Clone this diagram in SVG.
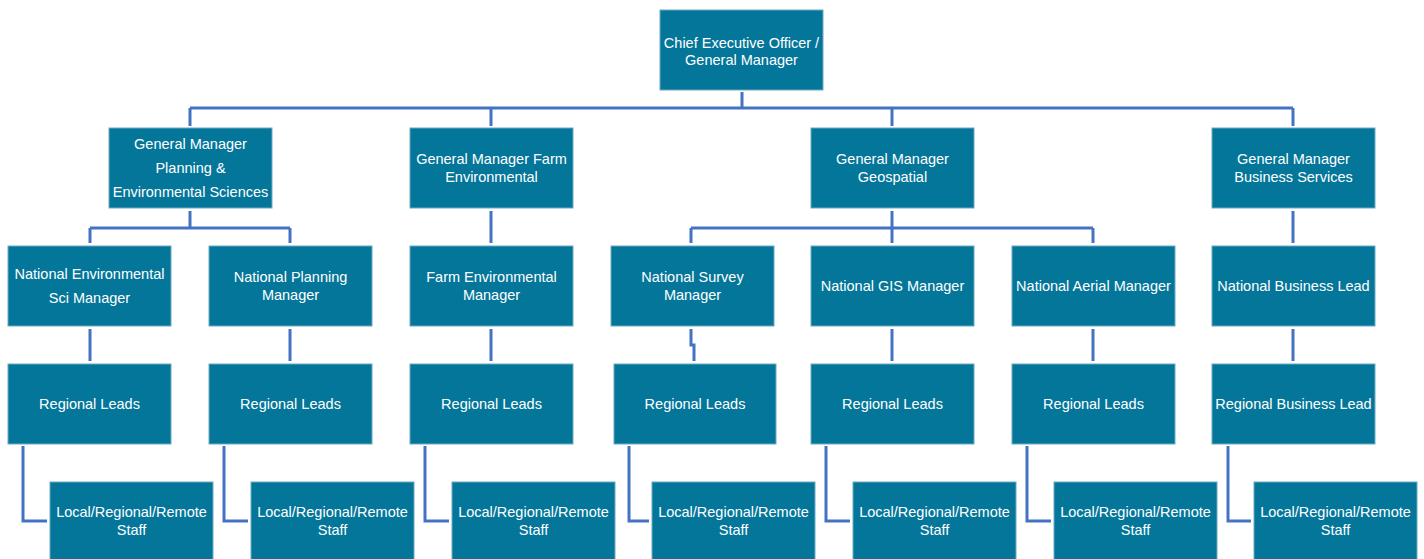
<svg xmlns="http://www.w3.org/2000/svg" width="1424" height="559" viewBox="0 0 1424 559">
<style>
.b{fill:#04769a;stroke:#6aaac2;stroke-width:1}
.t{font-family:"Liberation Sans",Arial,sans-serif;font-size:14.5px;fill:#ffffff;text-anchor:middle}
.c{fill:none;stroke:#4472c4;stroke-width:3;stroke-linejoin:miter}
</style>
<rect width="1424" height="559" fill="#ffffff"/>
<g id="connectors">
<path class="c" d="M742 92V108M190 108H1293M190 108V126M491 108V126M892 108V126M1293 108V126"/>
<path class="c" d="M190 211V228M90 228H290M90 228V243M290 228V243"/>
<path class="c" d="M491 211V243M1293 211V243"/>
<path class="c" d="M892 211V243M691 228H1093M691 228V243M1093 228V243"/>
<path class="c" d="M90 329V361M290 329V361M491 329V361M892 329V361M1093 329V361M1293 329V361"/>
<path class="c" d="M691 329V345H694V361"/>
<path class="c" d="M23 446V521H47M224 446V521H248M425 446V521H449M629 446V521H649M826 446V521H850M1027 446V521H1051M1228 446V521H1251"/>
</g>
<g id="ceo"><rect class="b" x="660" y="10" width="163" height="80"/><text class="t" x="741.5" y="48">Chief Executive Officer /</text><text class="t" x="741.5" y="65">General Manager</text></g>
<g id="gm-planning"><rect class="b" x="109" y="128" width="163" height="80"/><text class="t" x="190.5" y="149">General Manager</text><text class="t" x="190.5" y="173">Planning &amp;</text><text class="t" x="190.5" y="197">Environmental Sciences</text></g>
<g id="gm-farm"><rect class="b" x="410" y="128" width="163" height="80"/><text class="t" x="491.5" y="164">General Manager Farm</text><text class="t" x="491.5" y="182">Environmental</text></g>
<g id="gm-geo"><rect class="b" x="811" y="128" width="163" height="80"/><text class="t" x="892.5" y="164">General Manager</text><text class="t" x="892.5" y="182">Geospatial</text></g>
<g id="gm-business"><rect class="b" x="1212" y="128" width="163" height="80"/><text class="t" x="1293.5" y="164">General Manager</text><text class="t" x="1293.5" y="182">Business Services</text></g>
<g id="nat-env"><rect class="b" x="8" y="246" width="163" height="80"/><text class="t" x="89.5" y="279">National Environmental</text><text class="t" x="89.5" y="303">Sci Manager</text></g>
<g id="nat-planning"><rect class="b" x="209" y="246" width="163" height="80"/><text class="t" x="290.5" y="282">National Planning</text><text class="t" x="290.5" y="300">Manager</text></g>
<g id="farm-env"><rect class="b" x="410" y="246" width="163" height="80"/><text class="t" x="491.5" y="282">Farm Environmental</text><text class="t" x="491.5" y="300">Manager</text></g>
<g id="nat-survey"><rect class="b" x="611" y="246" width="163" height="80"/><text class="t" x="692.5" y="282">National Survey</text><text class="t" x="692.5" y="300">Manager</text></g>
<g id="nat-gis"><rect class="b" x="811" y="246" width="163" height="80"/><text class="t" x="892.5" y="291">National GIS Manager</text></g>
<g id="nat-aerial"><rect class="b" x="1012" y="246" width="163" height="80"/><text class="t" x="1093.5" y="291">National Aerial Manager</text></g>
<g id="nat-business"><rect class="b" x="1212" y="246" width="163" height="80"/><text class="t" x="1293.5" y="291">National Business Lead</text></g>
<g id="rl-1"><rect class="b" x="8" y="364" width="163" height="80"/><text class="t" x="89.5" y="409">Regional Leads</text></g>
<g id="rl-2"><rect class="b" x="209" y="364" width="163" height="80"/><text class="t" x="290.5" y="409">Regional Leads</text></g>
<g id="rl-3"><rect class="b" x="410" y="364" width="163" height="80"/><text class="t" x="491.5" y="409">Regional Leads</text></g>
<g id="rl-4"><rect class="b" x="614" y="364" width="162" height="80"/><text class="t" x="695" y="409">Regional Leads</text></g>
<g id="rl-5"><rect class="b" x="811" y="364" width="163" height="80"/><text class="t" x="892.5" y="409">Regional Leads</text></g>
<g id="rl-6"><rect class="b" x="1012" y="364" width="163" height="80"/><text class="t" x="1093.5" y="409">Regional Leads</text></g>
<g id="rl-7"><rect class="b" x="1212" y="364" width="163" height="80"/><text class="t" x="1293.5" y="409">Regional Business Lead</text></g>
<g id="staff-1"><rect class="b" x="50" y="482" width="163" height="80"/><text class="t" x="131.5" y="517">Local/Regional/Remote</text><text class="t" x="131.5" y="535">Staff</text></g>
<g id="staff-2"><rect class="b" x="251" y="482" width="163" height="80"/><text class="t" x="332.5" y="517">Local/Regional/Remote</text><text class="t" x="332.5" y="535">Staff</text></g>
<g id="staff-3"><rect class="b" x="452" y="482" width="163" height="80"/><text class="t" x="533.5" y="517">Local/Regional/Remote</text><text class="t" x="533.5" y="535">Staff</text></g>
<g id="staff-4"><rect class="b" x="652" y="482" width="163" height="80"/><text class="t" x="733.5" y="517">Local/Regional/Remote</text><text class="t" x="733.5" y="535">Staff</text></g>
<g id="staff-5"><rect class="b" x="853" y="482" width="163" height="80"/><text class="t" x="934.5" y="517">Local/Regional/Remote</text><text class="t" x="934.5" y="535">Staff</text></g>
<g id="staff-6"><rect class="b" x="1054" y="482" width="163" height="80"/><text class="t" x="1135.5" y="517">Local/Regional/Remote</text><text class="t" x="1135.5" y="535">Staff</text></g>
<g id="staff-7"><rect class="b" x="1254" y="482" width="163" height="80"/><text class="t" x="1335.5" y="517">Local/Regional/Remote</text><text class="t" x="1335.5" y="535">Staff</text></g>
</svg>
